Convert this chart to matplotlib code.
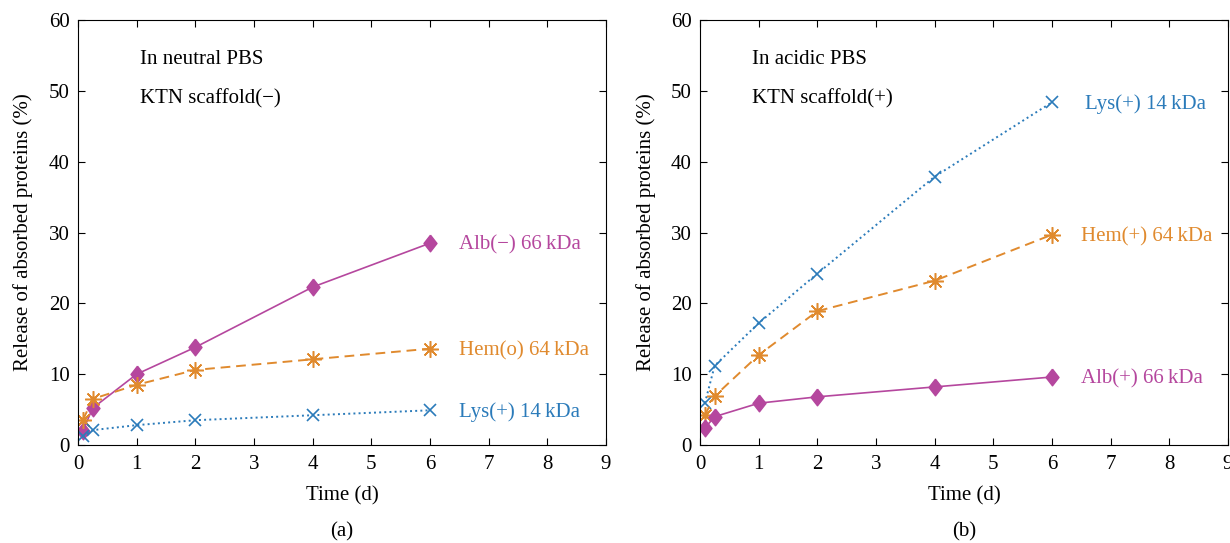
import numpy as np
import matplotlib.pyplot as plt

plt.rcParams['font.family'] = ['Liberation Serif', 'DejaVu Serif']

# Thời gian (ngày)
t = [0.083, 0.25, 1, 2, 4, 6]

# (a) PBS trung tính
alb_a = [2.0, 5.2, 10.0, 13.8, 22.3, 28.5]
hem_a = [3.5, 6.5, 8.5, 10.6, 12.1, 13.6]
lys_a = [1.2, 2.1, 2.8, 3.5, 4.2, 4.9]

# (b) PBS axit
lys_b = [5.9, 11.2, 17.2, 24.2, 37.9, 48.4]
hem_b = [4.2, 6.9, 12.7, 18.9, 23.2, 29.7]
alb_b = [2.4, 4.0, 5.9, 6.8, 8.2, 9.6]

c_alb = '#b5479e'
c_hem = '#e08a2e'
c_lys = '#2b7bba'
fs = 15

fig = plt.figure(figsize=(12.3, 5.43), dpi=100)
ax1 = fig.add_axes([0.0634, 0.1805, 0.4293, 0.7825])
ax2 = fig.add_axes([0.5691, 0.1805, 0.4293, 0.7825])

def style(ax, label):
    ax.set_xlim(0, 9)
    ax.set_ylim(0, 60)
    ax.set_xticks(range(10))
    ax.set_yticks(range(0, 61, 10))
    ax.tick_params(direction='in', top=True, right=True, labelsize=fs, length=5)
    ax.tick_params(axis='x', pad=7)
    ax.tick_params(axis='y', pad=6)
    ax.set_xlabel('Time (d)', fontsize=fs, labelpad=9)
    ax.set_ylabel('Release of absorbed proteins (%)', fontsize=fs, labelpad=11)
    ax.text(0.5, -0.205, label, transform=ax.transAxes, ha='center', va='center', fontsize=fs)

ast = (8, 2, 0)
diam = [(0, 1), (0.78, 0), (0, -1), (-0.78, 0), (0, 1)]

def series(ax, y, kind):
    if kind == 'alb':
        ax.plot(t, y, '-', color=c_alb, marker=diam, ms=12, lw=1.2)
    elif kind == 'hem':
        ax.plot(t, y, '--', color=c_hem, marker=ast, ms=12, mew=1.1, lw=1.4, dashes=(5, 3))
        ax.plot(t, y, 'o', color=c_hem, ms=3.5, ls='none')
    else:
        ax.plot(t, y, ':', color=c_lys, marker='x', ms=9, mew=1.2, lw=1.4)

series(ax1, alb_a, 'alb')
series(ax1, hem_a, 'hem')
series(ax1, lys_a, 'lys')
style(ax1, '(a)')
ax1.text(1.06, 54.5, 'In neutral PBS', fontsize=fs, va='center')
ax1.text(1.06, 48.9, 'KTN scaffold(\u2212)', fontsize=fs, va='center')
ax1.text(6.5, alb_a[-1] - 0.3, 'Alb(\u2212) 66\u2009kDa', color=c_alb, fontsize=fs, va='center')
ax1.text(6.5, hem_a[-1] - 0.3, 'Hem(o) 64\u2009kDa', color=c_hem, fontsize=fs, va='center')
ax1.text(6.5, lys_a[-1] - 0.3, 'Lys(+) 14\u2009kDa', color=c_lys, fontsize=fs, va='center')

series(ax2, lys_b, 'lys')
series(ax2, hem_b, 'hem')
series(ax2, alb_b, 'alb')
style(ax2, '(b)')
ax2.text(0.89, 54.5, 'In acidic PBS', fontsize=fs, va='center')
ax2.text(0.89, 48.9, 'KTN scaffold(+)', fontsize=fs, va='center')
ax2.text(6.56, lys_b[-1] - 0.3, 'Lys(+) 14\u2009kDa', color=c_lys, fontsize=fs, va='center')
ax2.text(6.49, hem_b[-1] - 0.3, 'Hem(+) 64\u2009kDa', color=c_hem, fontsize=fs, va='center')
ax2.text(6.5, alb_b[-1] - 0.3, 'Alb(+) 66\u2009kDa', color=c_alb, fontsize=fs, va='center')

fig.savefig('out.png', dpi=100)
